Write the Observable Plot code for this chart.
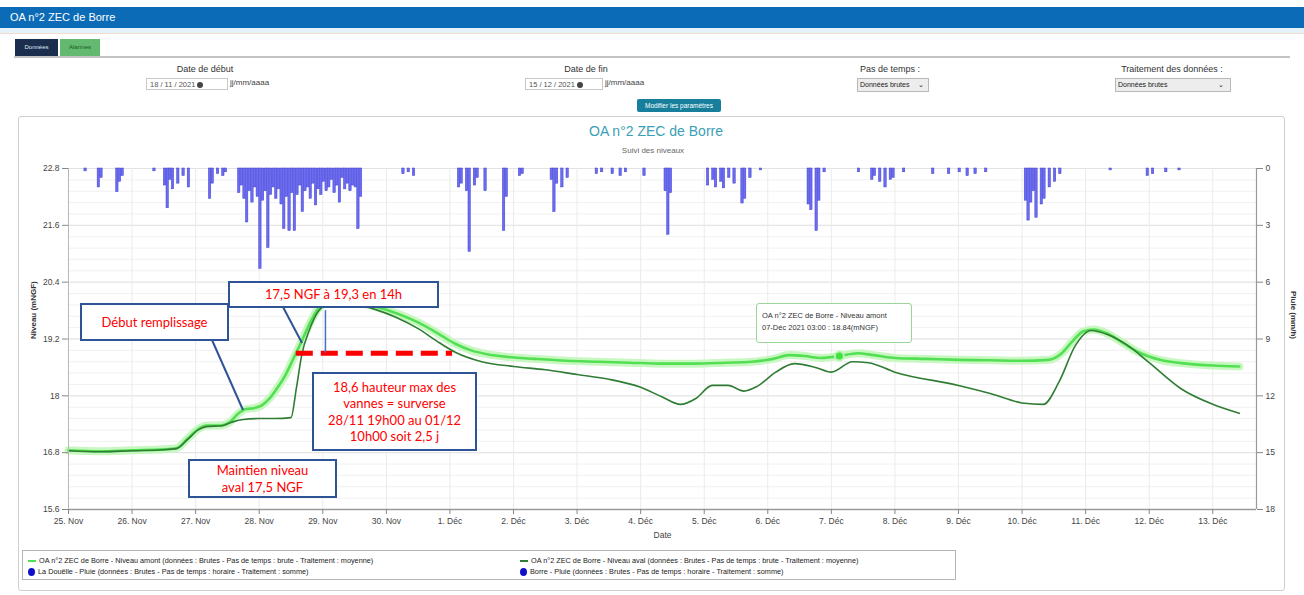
<!DOCTYPE html>
<html>
<head>
<meta charset="utf-8">
<script src="https://cdn.jsdelivr.net/npm/d3@7"></script>
<script src="https://cdn.jsdelivr.net/npm/@observablehq/plot@0.6"></script>
<style>
  html, body { margin:0; padding:0; background:#fff; }
  body { width:1304px; height:595px; overflow:hidden; position:relative; font-family:"Liberation Sans", Arial, sans-serif; color:#333; }
  .abs { position:absolute; }
  #topbar { left:0; top:7px; width:1304px; height:21px; background:#0b6bb7; color:#fff; font-size:11px; line-height:21px; }
  #topbar span { margin-left:10px; }
  #strip { left:0; top:28px; width:1304px; height:5px; background:#e4f2fa; border-bottom:1px solid #f3dccd; }
  .tab { top:39px; height:17px; font-size:6px; line-height:17px; text-align:center; }
  #tabline { left:14px; top:56px; width:1276px; height:2px; background:#c4c4c4; }
  .lbl { font-size:9px; color:#333; text-align:center; width:200px; }
  .inp { height:12px; border:1px solid #c8c8c8; font-size:7.5px; line-height:12px; color:#555; background:#fff; padding-left:3px; box-sizing:border-box; }
  .sel { height:14px; border:1px solid #b8b8b8; background:#ededed; font-size:7px; line-height:12px; color:#222; padding-left:2px; box-sizing:border-box; }
  .hint { font-size:8px; color:#444; }
  #btn { left:637px; top:99px; width:84px; height:13px; background:#177f9b; color:#fff; font-size:6.5px; line-height:13px; text-align:center; border-radius:2px; }
  #panel { left:18px; top:116px; width:1267px; height:475px; border:1px solid #cfcfcf; border-radius:3px; box-sizing:border-box; }
  #ctitle { left:0; top:123px; width:1312px; text-align:center; font-size:14px; color:#3a9fb5; }
  #csub { left:0; top:146px; width:1306px; text-align:center; font-size:8px; color:#666; }
  #plot { left:0; top:158px; }
  .box { background:#fff; border:2.5px solid #2f5496; box-sizing:border-box; color:#ff0000; font-family:Lato, "Open Sans", sans-serif; font-size:13px; text-align:center; display:flex; align-items:center; justify-content:center; line-height:16.5px; }
  #tip { left:756px; top:303px; width:156px; height:40px; border:1px solid #9ad69a; border-radius:3px; background:rgba(255,255,255,0.92); font-size:7.5px; color:#333; line-height:12px; padding:6px 0 0 5px; box-sizing:border-box; }
  #legend { left:22px; top:550px; width:934px; height:30px; border:1px solid #b5b5b5; box-sizing:border-box; font-size:7.3px; color:#222; }
  .li { position:absolute; white-space:nowrap; }
  .sw { display:inline-block; width:8px; height:2px; vertical-align:middle; margin-right:3px; }
  .dotsym { display:inline-block; width:7px; height:8px; border-radius:50%; background:#1010c8; vertical-align:middle; margin-right:3px; }
</style>
</head>
<body>
<div id="topbar" class="abs"><span>OA n°2 ZEC de Borre</span></div>
<div id="strip" class="abs"></div>
<div class="abs tab" style="left:15px;width:43px;background:#1c2e4e;color:#dfe6f0;">Données</div>
<div class="abs tab" style="left:60px;width:40px;background:#62b96f;color:#1d5a28;">Alarmes</div>
<div id="tabline" class="abs"></div>

<div class="abs lbl" style="left:105px;top:64px;">Date de début</div>
<div class="abs inp" style="left:146px;top:78px;width:82px;">18 / 11 / 2021 <span style="display:inline-block;width:6px;height:6px;border-radius:50%;background:#444;vertical-align:middle;"></span></div>
<div class="abs hint" style="left:230px;top:78px;">jj/mm/aaaa</div>

<div class="abs lbl" style="left:486px;top:64px;">Date de fin</div>
<div class="abs inp" style="left:525px;top:78px;width:78px;">15 / 12 / 2021 <span style="display:inline-block;width:6px;height:6px;border-radius:50%;background:#444;vertical-align:middle;"></span></div>
<div class="abs hint" style="left:605px;top:78px;">jj/mm/aaaa</div>

<div class="abs lbl" style="left:790px;top:64px;">Pas de temps :</div>
<div class="abs sel" style="left:857px;top:78px;width:72px;">Données brutes <span style="float:right;margin-right:4px;">⌄</span></div>

<div class="abs lbl" style="left:1072px;top:64px;">Traitement des données :</div>
<div class="abs sel" style="left:1115px;top:78px;width:116px;">Données brutes <span style="float:right;margin-right:6px;">⌄</span></div>

<div id="btn" class="abs">Modifier les paramètres</div>

<div id="panel" class="abs"></div>
<div id="ctitle" class="abs">OA n°2 ZEC de Borre</div>
<div id="csub" class="abs">Suivi des niveaux</div>
<div id="plot" class="abs"></div>

<svg class="abs" style="left:0;top:0;" width="1304" height="595">
  <line x1="212" y1="340" x2="243" y2="410" stroke="#2f5496" stroke-width="2"/>
  <line x1="283" y1="307" x2="302" y2="343" stroke="#2f5496" stroke-width="2"/>
</svg>

<div class="abs box" style="left:228px;top:281px;width:211px;height:27px;">17,5 NGF à 19,3 en 14h</div>
<div class="abs box" style="left:80px;top:303px;width:149px;height:38px;">Début remplissage</div>
<div class="abs box" style="left:312px;top:372px;width:165px;height:79px;">18,6 hauteur max des<br>vannes = surverse<br>28/11 19h00 au 01/12<br>10h00 soit 2,5 j</div>
<div class="abs box" style="left:188px;top:459px;width:149px;height:39px;">Maintien niveau<br>aval 17,5 NGF</div>

<div id="tip" class="abs">OA n°2 ZEC de Borre - Niveau amont<br>07-Déc 2021 03:00 : 18.84(mNGF)</div>

<div id="legend" class="abs">
  <div class="li" style="left:5px;top:5px;"><span class="sw" style="background:#52e052;"></span>OA n°2 ZEC de Borre - Niveau amont (données : Brutes - Pas de temps : brute - Traitement : moyenne)</div>
  <div class="li" style="left:497px;top:5px;"><span class="sw" style="background:#2f7d34;"></span>OA n°2 ZEC de Borre - Niveau aval (données : Brutes - Pas de temps : brute - Traitement : moyenne)</div>
  <div class="li" style="left:5px;top:16px;"><span class="dotsym"></span>La Douëlle - Pluie (données : Brutes - Pas de temps : horaire - Traitement : somme)</div>
  <div class="li" style="left:497px;top:16px;"><span class="dotsym"></span>Borre - Pluie (données : Brutes - Pas de temps : horaire - Traitement : somme)</div>
</div>

<script>
// ---------- data ----------
const niveauAmont = [
  ["11-25 00",16.85],["11-25 12",16.83],["11-26 00",16.85],["11-26 12",16.87],["11-26 17",16.90],
  ["11-26 21",17.10],["11-27 01",17.30],["11-27 04",17.37],["11-27 10",17.38],["11-27 13",17.45],
  ["11-27 16",17.62],["11-27 19",17.72],["11-27 22",17.74],["11-28 01",17.80],["11-28 04",17.95],
  ["11-28 07",18.18],["11-28 10",18.45],["11-28 13",18.80],["11-28 16",19.15],["11-28 19",19.52],
  ["11-28 22",19.82],["11-29 02",19.98],["11-29 06",20.02],["11-29 12",19.98],["11-29 20",19.88],
  ["11-30 04",19.74],["11-30 12",19.55],["11-30 20",19.30],["12-01 02",19.10],["12-01 08",18.96],
  ["12-01 14",18.88],["12-01 22",18.82],["12-02 08",18.78],["12-02 20",18.74],["12-03 08",18.72],
  ["12-03 20",18.70],["12-04 08",18.68],["12-04 20",18.68],["12-05 08",18.70],["12-05 18",18.72],
  ["12-06 02",18.78],["12-06 08",18.86],["12-06 14",18.84],["12-06 20",18.80],["12-07 03",18.84],
  ["12-07 10",18.90],["12-07 16",18.86],["12-08 00",18.80],["12-08 12",18.78],["12-09 00",18.76],
  ["12-09 12",18.75],["12-10 00",18.74],["12-10 10",18.76],["12-10 15",18.90],["12-10 19",19.15],
  ["12-10 23",19.36],["12-11 03",19.40],["12-11 08",19.32],["12-11 14",19.12],["12-11 20",18.92],
  ["12-12 04",18.76],["12-12 14",18.68],["12-13 00",18.64],["12-13 10",18.62]
];
const niveauAval = [
  ["11-25 00",16.84],["11-25 12",16.82],["11-26 00",16.84],["11-26 12",16.86],["11-26 17",16.89],
  ["11-26 21",17.08],["11-27 01",17.28],["11-27 04",17.35],["11-27 10",17.37],["11-27 14",17.45],
  ["11-27 18",17.50],["11-28 00",17.52],["11-28 06",17.52],["11-28 12",17.54],["11-28 14",18.15],
  ["11-28 16",18.85],["11-28 19",19.40],["11-28 22",19.76],["11-29 02",19.94],["11-29 06",19.98],
  ["11-29 12",19.94],["11-29 20",19.82],["11-30 04",19.65],["11-30 12",19.42],["11-30 20",19.12],
  ["12-01 02",18.92],["12-01 12",18.72],["12-02 00",18.62],["12-02 12",18.55],["12-03 00",18.45],
  ["12-03 12",18.35],["12-04 00",18.18],["12-04 08",17.98],["12-04 15",17.82],["12-04 21",17.95],
  ["12-05 03",18.22],["12-05 09",18.22],["12-05 15",18.10],["12-05 20",18.20],["12-06 03",18.50],
  ["12-06 10",18.68],["12-06 18",18.60],["12-07 00",18.50],["12-07 08",18.72],["12-07 14",18.70],
  ["12-08 00",18.50],["12-09 00",18.22],["12-09 12",18.05],["12-10 00",17.85],["12-10 08",17.82],
  ["12-10 14",18.30],["12-10 20",19.05],["12-11 02",19.38],["12-11 08",19.30],["12-11 16",19.06],
  ["12-12 00",18.70],["12-12 12",18.15],["12-13 00",17.82],["12-13 10",17.63]
];
// hourly rain (mm/h), both stations drawn in the same blue
const pluie = [
  ["11-25 06",0.15],["11-25 11",1.0],["11-25 12",0.5],["11-25 18",1.25],["11-25 19",0.7],["11-25 20",0.4],
  ["11-26 08",0.15],["11-26 12",0.9],["11-26 13",2.1],["11-26 14",0.6],["11-26 15",1.1],["11-26 17",0.8],
  ["11-26 19",0.4],["11-26 21",1.0],
  ["11-27 05",1.6],["11-27 06",0.8],["11-27 08",0.3],["11-27 10",0.4],["11-27 11",0.2],
  ["11-27 16",1.3],["11-27 17",0.9],["11-27 18",1.6],["11-27 19",2.85],["11-27 20",1.2],["11-27 21",1.8],
  ["11-27 22",1.0],["11-27 23",1.5],["11-28 00",5.3],["11-28 01",1.7],["11-28 02",1.2],["11-28 03",4.2],
  ["11-28 04",1.4],["11-28 05",1.0],["11-28 06",1.6],["11-28 07",1.1],["11-28 08",1.9],["11-28 09",3.2],
  ["11-28 10",1.5],["11-28 11",3.3],["11-28 12",1.3],["11-28 13",3.3],["11-28 14",1.4],["11-28 15",0.9],
  ["11-28 16",2.3],["11-28 17",1.2],["11-28 18",1.0],["11-28 19",1.6],["11-28 20",0.8],["11-28 21",1.95],
  ["11-28 22",1.1],["11-28 23",1.4],["11-29 00",0.7],["11-29 01",1.2],["11-29 02",1.0],["11-29 03",0.6],
  ["11-29 04",1.3],["11-29 05",0.9],["11-29 06",1.8],["11-29 07",0.5],["11-29 08",1.1],["11-29 09",0.8],
  ["11-29 10",1.2],["11-29 11",0.9],["11-29 12",1.0],["11-29 13",3.2],["11-29 14",1.5],
  ["11-30 06",0.3],["11-30 08",0.2],["11-30 10",0.4],
  ["12-01 03",1.0],["12-01 04",0.8],["12-01 06",1.2],["12-01 07",4.4],["12-01 09",0.9],["12-01 10",0.5],
  ["12-01 13",1.2],["12-01 20",3.3],["12-01 21",1.5],["12-02 02",0.4],["12-02 03",0.3],
  ["12-02 14",0.6],["12-02 15",2.3],["12-02 16",0.8],["12-02 18",1.0],["12-02 20",0.5],
  ["12-03 07",0.3],["12-03 09",0.2],["12-03 13",0.3],["12-03 16",0.4],["12-03 18",0.2],
  ["12-04 01",0.4],["12-04 09",1.2],["12-04 10",3.5],["12-04 11",1.3],
  ["12-05 01",0.9],["12-05 03",0.6],["12-05 04",1.0],["12-05 06",0.7],["12-05 07",1.05],["12-05 09",0.5],
  ["12-05 11",0.8],["12-05 14",1.85],["12-05 15",1.6],["12-05 17",0.5],["12-05 21",0.1],
  ["12-06 15",1.9],["12-06 16",2.2],["12-06 18",3.3],["12-06 19",1.7],["12-06 21",0.2],
  ["12-07 10",0.2],["12-07 15",0.6],["12-07 16",0.4],["12-07 18",0.7],["12-07 20",1.0],["12-07 22",0.6],
  ["12-07 23",0.5],["12-08 03",0.2],["12-08 14",0.3],["12-08 20",0.3],["12-09 00",0.2],["12-09 03",0.4],
  ["12-09 06",0.3],["12-09 10",0.2],
  ["12-10 01",1.7],["12-10 02",2.75],["12-10 03",1.8],["12-10 04",1.2],["12-10 05",2.6],["12-10 07",1.9],
  ["12-10 08",1.6],["12-10 10",1.0],["12-10 12",0.7],["12-10 14",0.3],
  ["12-11 09",0.1],["12-11 23",0.4],["12-12 01",0.3],["12-12 06",0.2],["12-12 11",0.1]
];
const niveauTicks = [15.6, 16.8, 18, 19.2, 20.4, 21.6, 22.8];
const pluieTicks = [0, 3, 6, 9, 12, 15, 18];
const moisLabels = {10: "Nov", 11: "Déc"};
const periode = ["11-25 00", "12-13 16.5"];
const surverse = {niveau: 18.9, debut: "11-28 14", fin: "12-01 01"};
const repere14h = {date: "11-29 01", bas: 18.9, haut: 19.8};
const tooltipPoint = ["12-07 03", 18.84];

// ---------- helpers ----------
function t(s) {
  const [md, h] = s.split(" ");
  const [m, d] = md.split("-").map(Number);
  const hh = +h;
  return new Date(Date.UTC(2021, m - 1, d, Math.floor(hh), Math.round((hh % 1) * 60)));
}
const yTop = niveauTicks[niveauTicks.length - 1], yBot = niveauTicks[0];
const mmToNiveau = mm => yTop - mm * (yTop - yBot) / pluieTicks[pluieTicks.length - 1];

const amont = niveauAmont.map(([d, v]) => ({date: t(d), v}));
const aval = niveauAval.map(([d, v]) => ({date: t(d), v}));
const rain = pluie.map(([d, mm]) => ({date: t(d), mm}));
const xDomain = periode.map(t);
const dayTicks = d3.utcDay.range(xDomain[0], xDomain[1]);
const minorTicks = d3.range(0, 31).map(i => yBot + i * 0.24);

const chart = Plot.plot({
  width: 1304,
  height: 387,
  marginLeft: 68,
  marginRight: 48,
  marginTop: 10,
  marginBottom: 36,
  style: {fontFamily: '"Liberation Sans", Arial, sans-serif', fontSize: "9px", color: "#444", background: "transparent", overflow: "visible"},
  x: {type: "utc", domain: xDomain},
  y: {domain: [yBot, yTop]},
  marks: [
    Plot.gridY(minorTicks, {stroke: "#f1f1f1", strokeOpacity: 1}),
    Plot.gridY(niveauTicks, {stroke: "#e2e2e2", strokeOpacity: 1}),
    Plot.gridX(dayTicks, {stroke: "#ebebeb", strokeOpacity: 1}),
    Plot.rect(rain, {
      x1: "date", x2: d => new Date(+d.date + 3600e3 * 0.9),
      y1: yTop, y2: d => mmToNiveau(d.mm),
      fill: "#6b6cf3", stroke: "#4444cc", strokeWidth: 0.5
    }),
    Plot.line(amont, {x: "date", y: "v", stroke: "#c9f7c2", strokeWidth: 8, curve: "monotone-x"}),
    Plot.line(amont, {x: "date", y: "v", stroke: "#52e052", strokeWidth: 2.6, curve: "monotone-x"}),
    Plot.line(aval, {x: "date", y: "v", stroke: "#2f7d34", strokeWidth: 1.6, curve: "monotone-x"}),
    Plot.ruleY([surverse], {y: "niveau", x1: d => t(d.debut), x2: d => t(d.fin), stroke: "#ff0000", strokeWidth: 5, strokeDasharray: "17,8"}),
    Plot.ruleX([repere14h], {x: d => t(d.date), y1: "bas", y2: "haut", stroke: "#4472c4", strokeWidth: 1.5}),
    Plot.dot([tooltipPoint], {x: d => t(d[0]), y: d => d[1], r: 4.5, fill: "#42e042", stroke: "#b8f5b0", strokeWidth: 2}),
    Plot.ruleY([yBot], {stroke: "#9a9a9a", strokeWidth: 1.5}),
    Plot.ruleX([xDomain[0]], {stroke: "#b8b8b8"}),
    Plot.ruleX([xDomain[1]], {stroke: "#9a9a9a", strokeWidth: 1.2}),
    Plot.axisY(niveauTicks, {anchor: "left", tickSize: 6, tickPadding: 3, stroke: "#888", fill: "#444", fontSize: 8.5,
      tickFormat: v => (Math.round(v * 10) / 10).toString(), label: null}),
    Plot.axisY(pluieTicks.map(mmToNiveau), {anchor: "right", tickSize: 6, tickPadding: 3, stroke: "#888", fill: "#444", fontSize: 8.5,
      tickFormat: v => Math.round((yTop - v) / ((yTop - yBot) / 18)).toString(), label: null}),
    Plot.axisX(dayTicks, {tickSize: 5, tickPadding: 3, stroke: "#888", fill: "#444", fontSize: 8.5,
      tickFormat: d => `${d.getUTCDate()}. ${moisLabels[d.getUTCMonth()]}`, label: null}),
    Plot.text(["Niveau (mNGF)"], {frameAnchor: "left", dx: -35, rotate: -90, fontSize: 8, fontWeight: "bold", fill: "#333"}),
    Plot.text(["Pluie (mm/h)"], {frameAnchor: "right", dx: 37, rotate: 90, fontSize: 8, fontWeight: "bold", fill: "#333"}),
    Plot.text(["Date"], {frameAnchor: "bottom", dy: 28, fontSize: 8.5, fill: "#444"})
  ]
});
document.getElementById("plot").appendChild(chart);
</script>
</body>
</html>
